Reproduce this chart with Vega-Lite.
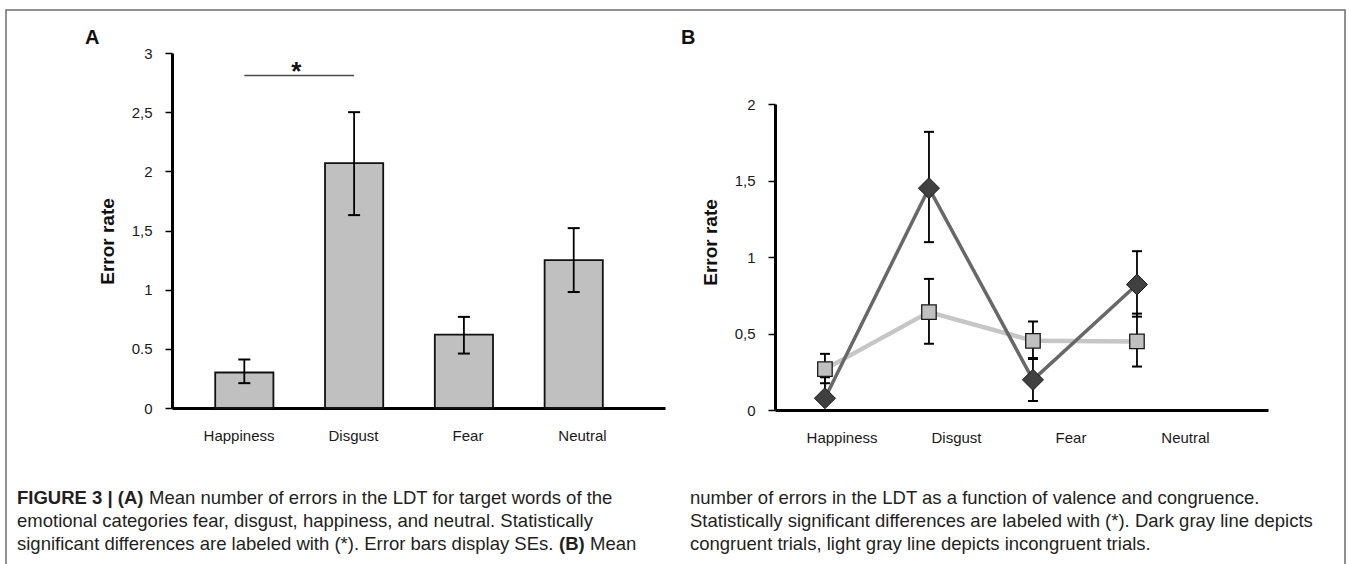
{
  "$schema": "https://vega.github.io/schema/vega-lite/v6.json",
  "width": 1339,
  "height": 560,
  "autosize": {"type": "none"},
  "padding": {"left": 6, "top": 10, "right": 4, "bottom": 0},
  "background": "white",
  "config": {
    "view": {"stroke": "#6e6e6e", "strokeWidth": 1.5},
    "axis": {"grid": false, "labelFont": "Liberation Sans", "titleFont": "Liberation Sans"},
    "font": "Liberation Sans"
  },
  "datasets": {
    "errA": [
      {"cat": "Happiness", "mean": 0.30, "lo": 0.21, "hi": 0.41},
      {"cat": "Disgust", "mean": 2.07, "lo": 1.63, "hi": 2.50},
      {"cat": "Fear", "mean": 0.62, "lo": 0.46, "hi": 0.77},
      {"cat": "Neutral", "mean": 1.25, "lo": 0.98, "hi": 1.52}
    ],
    "sigA": [
      {"from": "Happiness", "to": "Disgust", "level": 2.81, "mark": "*"}
    ],
    "errB": [
      {"cat": "Happiness", "cond": "incongruent", "mean": 0.267, "lo": 0.175, "hi": 0.367},
      {"cat": "Disgust", "cond": "incongruent", "mean": 0.64, "lo": 0.433, "hi": 0.857},
      {"cat": "Fear", "cond": "incongruent", "mean": 0.452, "lo": 0.334, "hi": 0.579},
      {"cat": "Neutral", "cond": "incongruent", "mean": 0.448, "lo": 0.284, "hi": 0.63},
      {"cat": "Happiness", "cond": "congruent", "mean": 0.077, "lo": 0.077, "hi": 0.214},
      {"cat": "Disgust", "cond": "congruent", "mean": 1.45, "lo": 1.097, "hi": 1.818},
      {"cat": "Fear", "cond": "congruent", "mean": 0.197, "lo": 0.059, "hi": 0.34},
      {"cat": "Neutral", "cond": "congruent", "mean": 0.82, "lo": 0.61, "hi": 1.038}
    ],
    "letters": [
      {"panel": "A"},
      {"panel": "B"}
    ],
    "caption": [
      {"col": "L", "line": 2, "text": "emotional categories fear, disgust, happiness, and neutral. Statistically"},
      {"col": "L", "line": 3, "text": "significant differences are labeled with (*). Error bars display SEs."},
      {"col": "R", "line": 1, "text": "number of errors in the LDT as a function of valence and congruence."},
      {"col": "R", "line": 2, "text": "Statistically significant differences are labeled with (*). Dark gray line depicts"},
      {"col": "R", "line": 3, "text": "congruent trials, light gray line depicts incongruent trials."}
    ],
    "capBoldA": [
      {"col": "L", "line": 1, "text": "FIGURE 3 | (A)"}
    ],
    "capRestA": [
      {"col": "L", "line": 1, "text": "Mean number of errors in the LDT for target words of the"}
    ],
    "capBoldB": [
      {"col": "L", "line": 3, "text": "(B)"}
    ],
    "capRestB": [
      {"col": "L", "line": 3, "text": "Mean"}
    ]
  },
  "layer": [
    {
      "layer": [
        {
          "layer": [
            {
              "data": {"name": "errA"},
              "mark": {"type": "bar", "fill": "#c0c0c0", "stroke": "#111111", "strokeWidth": 1.8},
              "encoding": {
                "x": {
                  "field": "cat", "type": "nominal",
                  "scale": {"type": "band", "domain": ["Happiness", "Disgust", "Fear", "Neutral"], "range": [166, 659], "paddingInner": 0.47, "paddingOuter": 0.48, "align": 0.41},
                  "axis": {"orient": "bottom", "offset": -162, "labels": false, "ticks": false, "domain": true, "domainColor": "#000000", "domainWidth": 3, "title": null}
                },
                "y": {
                  "field": "mean", "type": "quantitative",
                  "scale": {"domain": [0, 3], "range": [398, 43], "nice": false, "zero": true},
                  "axis": {
                    "orient": "left", "offset": -166,
                    "values": [0, 0.5, 1, 1.5, 2, 2.5, 3],
                    "labelExpr": "datum.value == 0.5 ? '0.5' : replace(toString(datum.value), '.', ',')",
                    "domainColor": "#000000", "domainWidth": 3,
                    "tickColor": "#000000", "tickWidth": 1.5, "tickSize": 7,
                    "labelPadding": 13, "labelFontSize": 15, "labelColor": "#1a1a1a",
                    "title": "Error rate", "titleFontSize": 19, "titleFontWeight": "bold", "titleColor": "#111111",
                    "titlePadding": 14, "titleY": 231
                  }
                }
              }
            },
            {
              "data": {"name": "errA"},
              "mark": {"type": "rule", "stroke": "#000000", "strokeWidth": 1.8},
              "encoding": {
                "x": {"field": "cat", "type": "nominal"},
                "y": {"field": "lo", "type": "quantitative"},
                "y2": {"field": "hi"}
              }
            },
            {
              "data": {"name": "errA"},
              "mark": {"type": "tick", "color": "#000000", "thickness": 2, "size": 12, "opacity": 1},
              "encoding": {
                "x": {"field": "cat", "type": "nominal"},
                "y": {"field": "lo", "type": "quantitative"}
              }
            },
            {
              "data": {"name": "errA"},
              "mark": {"type": "tick", "color": "#000000", "thickness": 2, "size": 12, "opacity": 1},
              "encoding": {
                "x": {"field": "cat", "type": "nominal"},
                "y": {"field": "hi", "type": "quantitative"}
              }
            },
            {
              "data": {"name": "sigA"},
              "mark": {"type": "rule", "stroke": "#4a4a4a", "strokeWidth": 1.6},
              "encoding": {
                "x": {"field": "from", "type": "nominal"},
                "x2": {"field": "to"},
                "y": {"field": "level", "type": "quantitative"}
              }
            },
            {
              "data": {"name": "sigA"},
              "mark": {"type": "text", "fontSize": 26, "fontWeight": "bold", "color": "#111111", "align": "center", "baseline": "alphabetic", "dx": 52, "dy": 5},
              "encoding": {
                "x": {"field": "from", "type": "nominal"},
                "y": {"field": "level", "type": "quantitative"},
                "text": {"field": "mark"}
              }
            }
          ]
        },
        {
          "data": {"name": "errA"},
          "mark": {"type": "text", "opacity": 0},
          "encoding": {
            "x": {
              "field": "cat", "type": "nominal",
              "scale": {"type": "point", "domain": ["Happiness", "Disgust", "Fear", "Neutral"], "range": [166, 659], "padding": 0.653, "align": 0.445},
              "axis": {"orient": "bottom", "offset": -162, "domain": false, "ticks": false, "tickSize": 0, "labelPadding": 27, "labelBaseline": "middle", "labelFontSize": 15, "labelColor": "#1a1a1a", "labelAngle": 0, "title": null}
            }
          }
        }
      ],
      "resolve": {"scale": {"x": "independent"}}
    },
    {
      "layer": [
        {
          "data": {"name": "errB"},
          "layer": [
            {
              "transform": [{"filter": "datum.cond == 'incongruent'"}],
              "mark": {"type": "line", "stroke": "#c6c6c6", "strokeWidth": 4.5},
              "encoding": {
                "x": {
                  "field": "cat", "type": "nominal",
                  "sort": ["Happiness", "Disgust", "Fear", "Neutral"],
                  "scale": {"type": "point", "domain": ["Happiness", "Disgust", "Fear", "Neutral"], "range": [769, 1262], "padding": 0.87, "align": 0.276},
                  "axis": {"orient": "bottom", "offset": -160, "labels": false, "ticks": false, "domain": true, "domainColor": "#000000", "domainWidth": 3, "title": null}
                },
                "y": {
                  "field": "mean", "type": "quantitative",
                  "scale": {"domain": [0, 2], "range": [400, 94], "nice": false, "zero": true},
                  "axis": {
                    "orient": "left", "offset": -769,
                    "values": [0, 0.5, 1, 1.5, 2],
                    "labelExpr": "replace(toString(datum.value), '.', ',')",
                    "domainColor": "#000000", "domainWidth": 3,
                    "tickColor": "#000000", "tickWidth": 1.5, "tickSize": 7,
                    "labelPadding": 13, "labelFontSize": 15, "labelColor": "#1a1a1a",
                    "title": "Error rate", "titleFontSize": 19, "titleFontWeight": "bold", "titleColor": "#111111",
                    "titlePadding": 14, "titleY": 232
                  }
                }
              }
            },
            {
              "transform": [{"filter": "datum.cond == 'congruent'"}],
              "mark": {"type": "line", "stroke": "#686868", "strokeWidth": 3.5},
              "encoding": {
                "x": {"field": "cat", "type": "nominal", "sort": ["Happiness", "Disgust", "Fear", "Neutral"]},
                "y": {"field": "mean", "type": "quantitative"}
              }
            },
            {
              "mark": {"type": "rule", "stroke": "#000000", "strokeWidth": 1.8},
              "encoding": {
                "x": {"field": "cat", "type": "nominal"},
                "y": {"field": "lo", "type": "quantitative"},
                "y2": {"field": "hi"}
              }
            },
            {
              "mark": {"type": "tick", "color": "#000000", "thickness": 2, "size": 10, "opacity": 1},
              "encoding": {
                "x": {"field": "cat", "type": "nominal"},
                "y": {"field": "lo", "type": "quantitative"}
              }
            },
            {
              "mark": {"type": "tick", "color": "#000000", "thickness": 2, "size": 10, "opacity": 1},
              "encoding": {
                "x": {"field": "cat", "type": "nominal"},
                "y": {"field": "hi", "type": "quantitative"}
              }
            },
            {
              "transform": [{"filter": "datum.cond == 'incongruent'"}],
              "mark": {"type": "point", "shape": "square", "size": 210, "filled": true, "fill": "#c0c0c0", "stroke": "#1a1a1a", "strokeWidth": 1.3, "opacity": 1},
              "encoding": {
                "x": {"field": "cat", "type": "nominal"},
                "y": {"field": "mean", "type": "quantitative"}
              }
            },
            {
              "transform": [{"filter": "datum.cond == 'congruent'"}],
              "mark": {"type": "point", "shape": "diamond", "size": 441, "filled": true, "fill": "#404040", "stroke": "#1a1a1a", "strokeWidth": 1, "opacity": 1},
              "encoding": {
                "x": {"field": "cat", "type": "nominal"},
                "y": {"field": "mean", "type": "quantitative"}
              }
            }
          ]
        },
        {
          "data": {"name": "errA"},
          "mark": {"type": "text", "opacity": 0},
          "encoding": {
            "x": {
              "field": "cat", "type": "nominal",
              "scale": {"type": "point", "domain": ["Happiness", "Disgust", "Fear", "Neutral"], "range": [769, 1262], "padding": 0.653, "align": 0.445},
              "axis": {"orient": "bottom", "offset": -160, "domain": false, "ticks": false, "tickSize": 0, "labelPadding": 27, "labelBaseline": "middle", "labelFontSize": 15, "labelColor": "#1a1a1a", "labelAngle": 0, "title": null}
            }
          }
        }
      ],
      "resolve": {"scale": {"x": "independent"}}
    },
    {
      "data": {"name": "letters"},
      "mark": {"type": "text", "align": "left", "baseline": "alphabetic", "fontSize": 20, "fontWeight": "bold", "color": "#111111"},
      "encoding": {
        "x": {"field": "panel", "type": "nominal", "scale": {"type": "point", "domain": ["A", "B"], "range": [79, 675], "padding": 0}, "axis": null},
        "y": {"field": "panel", "type": "nominal", "scale": {"type": "point", "domain": ["A", "B"], "range": [34, 34], "padding": 0}, "axis": null},
        "text": {"field": "panel", "type": "nominal"}
      }
    },
    {
      "layer": [
        {
          "data": {"name": "caption"},
          "mark": {"type": "text", "align": "left", "baseline": "alphabetic", "fontSize": 18.5, "color": "#231f20"},
          "encoding": {
            "x": {"field": "col", "type": "nominal", "scale": {"type": "point", "domain": ["L", "R"], "range": [11, 684], "padding": 0}, "axis": null},
            "y": {"field": "line", "type": "ordinal", "scale": {"type": "point", "domain": [1, 2, 3], "range": [494, 540], "padding": 0}, "axis": null},
            "text": {"field": "text", "type": "nominal"}
          }
        },
        {
          "data": {"name": "capBoldA"},
          "mark": {"type": "text", "align": "left", "baseline": "alphabetic", "fontSize": 18.5, "fontWeight": "bold", "color": "#231f20"},
          "encoding": {
            "x": {"field": "col", "type": "nominal"},
            "y": {"field": "line", "type": "ordinal"},
            "text": {"field": "text", "type": "nominal"}
          }
        },
        {
          "data": {"name": "capRestA"},
          "mark": {"type": "text", "align": "left", "baseline": "alphabetic", "fontSize": 18.5, "color": "#231f20", "dx": 132},
          "encoding": {
            "x": {"field": "col", "type": "nominal"},
            "y": {"field": "line", "type": "ordinal"},
            "text": {"field": "text", "type": "nominal"}
          }
        },
        {
          "data": {"name": "capBoldB"},
          "mark": {"type": "text", "align": "left", "baseline": "alphabetic", "fontSize": 18.5, "fontWeight": "bold", "color": "#231f20", "dx": 542},
          "encoding": {
            "x": {"field": "col", "type": "nominal"},
            "y": {"field": "line", "type": "ordinal"},
            "text": {"field": "text", "type": "nominal"}
          }
        },
        {
          "data": {"name": "capRestB"},
          "mark": {"type": "text", "align": "left", "baseline": "alphabetic", "fontSize": 18.5, "color": "#231f20", "dx": 573},
          "encoding": {
            "x": {"field": "col", "type": "nominal"},
            "y": {"field": "line", "type": "ordinal"},
            "text": {"field": "text", "type": "nominal"}
          }
        }
      ]
    }
  ],
  "resolve": {"scale": {"x": "independent", "y": "independent"}}
}
